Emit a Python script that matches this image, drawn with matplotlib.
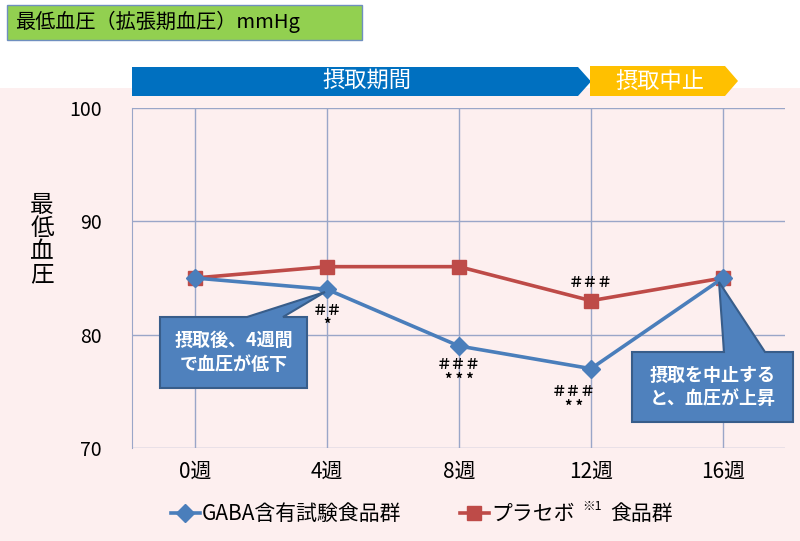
import matplotlib
matplotlib.use("Agg")
import matplotlib.pyplot as plt
from matplotlib.patches import Polygon, Rectangle
from matplotlib.lines import Line2D

plt.rcParams['font.family'] = ['Noto Sans CJK JP', 'DejaVu Sans']

# データ
weeks = ["0週", "4週", "8週", "12週", "16週"]
gaba = [85, 84, 79, 77, 85]
placebo = [85, 86, 86, 83, 85]
yticks = [70, 80, 90, 100]

W, H = 800, 541
pink = "#FDEFEF"
blue_line = "#4A7EBB"
red_line = "#BE4B48"
grid_c = "#9AA6C8"

fig = plt.figure(figsize=(W / 100, H / 100), dpi=100)
fig.patch.set_facecolor(pink)


def px(x, y):
    # ピクセル座標（左上原点）-> figure座標
    return (x / W, 1 - y / H)


# 上部の白い帯
fig.patches.append(Rectangle(px(0, 88), 1, 88 / H, transform=fig.transFigure,
                             facecolor="white", edgecolor="none", zorder=0))

ax = fig.add_axes([132 / W, 1 - 448 / H, (785 - 132) / W, (448 - 108) / H])
ax.set_facecolor(pink)
x = list(range(len(weeks)))

ax.plot(x, gaba, color=blue_line, lw=2.6, marker="D", ms=9,
        markerfacecolor=blue_line, markeredgecolor=blue_line, zorder=4)
ax.plot(x, placebo, color=red_line, lw=2.6, marker="s", ms=10,
        markerfacecolor=red_line, markeredgecolor=red_line, zorder=3)

ax.set_xlim(-0.477, 4.47)
ax.set_ylim(70, 100)
ax.set_yticks(yticks)
ax.set_xticks(x)
ax.set_xticklabels(weeks, fontsize=15)
ax.tick_params(axis="y", labelsize=14, length=0, pad=22)
ax.tick_params(axis="x", length=0, pad=9)
ax.grid(True, color=grid_c, lw=1)
for s in ["top", "right", "bottom"]:
    ax.spines[s].set_visible(False)
ax.spines["left"].set_color(grid_c)

# 有意差マーク
marks = [
    (1, 82.2, "＃＃"), (1, 80.9, "*"),
    (2, 77.4, "＃＃＃"), (2, 76.0, "* * *"),
    (3, 84.6, "＃＃＃"), (2.87, 75.0, "＃＃＃"), (2.87, 73.6, "* *"),
]
for mx, my, t in marks:
    ax.text(mx, my, t, ha="center", va="center", fontsize=10.5, fontweight="bold",
            color="black", zorder=6)

fig.text(42 / W, 1 - 240 / H, "最\n低\n血\n圧", fontsize=17, ha="center",
         va="center", linespacing=1.0)

# タイトルボックス
fig.patches.append(Rectangle(px(7, 40), 355 / W, 35 / H, transform=fig.transFigure,
                             facecolor="#92D050", edgecolor="#6F8FBF", lw=1))
fig.text(15 / W, 1 - 22 / H, "最低血圧（拡張期血圧）mmHg", fontsize=14.5,
         va="center", ha="left")

# 期間の矢印
blue_arrow = [px(132, 67), px(578, 67), px(591, 81.5), px(578, 96), px(132, 96)]
yellow_arrow = [px(590, 66), px(725, 66), px(738, 81), px(725, 96), px(590, 96)]
fig.patches.append(Polygon(blue_arrow, closed=True, transform=fig.transFigure,
                           facecolor="#0070C0", edgecolor="none"))
fig.patches.append(Polygon(yellow_arrow, closed=True, transform=fig.transFigure,
                           facecolor="#FFC000", edgecolor="none"))
fig.text(367 / W, 1 - 81 / H, "摂取期間", color="white", fontsize=16,
         ha="center", va="center")
fig.text(660 / W, 1 - 81 / H, "摂取中止", color="white", fontsize=16,
         ha="center", va="center")


# 吹き出し
def callout(box, base, tip, text):
    x0, y0, x1, y1 = box
    pts = [px(x0, y0), px(base[0], y0), px(*tip), px(base[1], y0), px(x1, y0),
           px(x1, y1), px(x0, y1)]
    fig.patches.append(Polygon(pts, closed=True, transform=fig.transFigure,
                               facecolor="#4F81BD", edgecolor="#385D8A", lw=1.5,
                               zorder=5))
    fig.text((x0 + x1) / 2 / W, 1 - (y0 + y1) / 2 / H, text, color="white",
             fontsize=13, fontweight="bold", ha="center", va="center",
             linespacing=1.3, zorder=6)


callout((160, 317, 307, 388), (247, 283), (325, 292), "摂取後、4週間\nで血圧が低下")
callout((632, 352, 793, 422), (724, 765), (719, 282), "摂取を中止する\nと、血圧が上昇")

# 凡例
handles = [
    Line2D([], [], color=blue_line, lw=2.6, marker="D", ms=9),
    Line2D([], [], color=red_line, lw=2.6, marker="s", ms=10),
]
labels = ["GABA含有試験食品群", "プラセボ"]
leg = fig.legend(handles, labels, loc="center left", bbox_to_anchor=(152 / W, 1 - 514 / H),
                 ncol=2, frameon=False, fontsize=15, handlelength=1.4,
                 handletextpad=0.1, columnspacing=2.8)

fig.canvas.draw()
r = fig.canvas.get_renderer()
bb = leg.get_texts()[1].get_window_extent(r)
fig.text((bb.x1 + 8) / W, (bb.y0 + bb.height * 0.55) / H, "※1",
         fontsize=9, ha="left", va="bottom")
fig.text((bb.x1 + 36) / W, (bb.y0 + bb.y1) / 2 / H, "食品群",
         fontsize=15, ha="left", va="center")

fig.savefig("out.png", dpi=100, facecolor=fig.get_facecolor())
